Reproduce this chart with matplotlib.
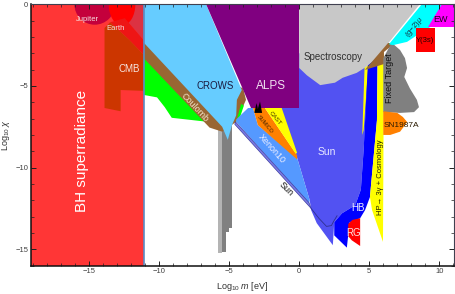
import matplotlib
matplotlib.use("Agg")
import matplotlib.pyplot as plt
from matplotlib.patches import Polygon, Ellipse
from matplotlib.ticker import MultipleLocator

plt.rcParams['font.family'] = ['Liberation Sans', 'DejaVu Sans']
plt.rcParams['mathtext.fontset'] = 'custom'
plt.rcParams['mathtext.rm'] = 'Liberation Sans'
plt.rcParams['mathtext.it'] = 'Liberation Sans:italic'

# axis ranges (log10 m [eV], log10 chi)
x_range = (-19.15, 11.05)
y_range = (-16, 0)

# excluded regions, outlines (log10 m, log10 chi)
bh_x = (-19.2, -11.1)
jupiter = dict(xy=(-14.6, 0.0), width=2.9, height=2.5)
earth = dict(xy=(-12.65, 0.0), width=1.9, height=2.6)
pink_top = [(-12.95, 0), (-11.1, 0), (-11.1, -2.2), (-12.45, -0.85)]
red_band = [(-13.5, -1.1), (-12.45, -0.85), (-11.1, -2.2), (-11.1, -3.1), (-12.1, -2.2)]
cmb = [(-13.9, -1.45), (-13.5, -1.1), (-12.1, -2.2), (-11.1, -3.1), (-11.1, -5.3),
       (-12.75, -5.25), (-12.75, -6.55), (-13.9, -6.35)]
gray_light = [(-5.77, -7.1), (-5.54, -7.1), (-5.54, -15.23), (-5.77, -15.23)]
gray_dark = [(-5.54, -7.1), (-4.81, -7.1), (-4.81, -13.7), (-5.02, -13.7), (-5.02, -13.94),
             (-5.24, -13.94), (-5.24, -15.17), (-5.54, -15.17)]
green = [(-11.1, -2.9), (-6.5, -7.2), (-9.1, -6.95), (-9.6, -6.3), (-10.15, -5.7), (-11.1, -5.55)]
green_sliver = [(-4.5, -7.2), (-4.15, -6.1), (-3.95, -6.2), (-4.3, -7.1)]
coulomb = [(-11.1, -2.3), (-4.0, -5.15), (-3.8, -5.85), (-4.5, -7.2), (-5.5, -7.8),
           (-6.4, -7.55), (-11.1, -3.3)]
crows = [(-11.1, 0), (-6.65, 0), (-4.1, -5.25), (-4.45, -5.85), (-4.5, -6.8), (-4.8, -7.4),
         (-5.1, -8.3), (-5.5, -7.5), (-11.1, -2.35)]
sun = [(-2.65, -3.0), (5.0, -3.0), (4.6, -8.9), (4.4, -11.35), (4.0, -12.3), (3.05, -12.8),
       (2.5, -13.35), (2.4, -14.75), (1.25, -13.4), (0.85, -12.6), (0.75, -12.0),
       (-0.15, -9.4), (-1.4, -6.35), (-2.65, -6.35)]
yellow_sliver = [(4.7, -3.0), (5.0, -3.0), (4.6, -7.7), (4.5, -8.0)]
hb = [(4.95, -3.0), (5.6, -3.0), (5.55, -7.1), (5.05, -11.8), (4.7, -12.6), (4.35, -13.1),
      (3.6, -13.35), (3.4, -14.9), (2.5, -14.15), (2.5, -13.35), (3.05, -12.8), (4.0, -12.3),
      (4.4, -11.35), (4.6, -8.9), (4.9, -3.7)]
rg = [(3.5, -13.45), (3.8, -13.2), (4.35, -13.1), (4.35, -14.8), (3.75, -14.45), (3.5, -14.2)]
cosmology = [(5.6, -3.0), (6.05, -3.0), (5.98, -14.55), (5.2, -12.6), (5.05, -11.8), (5.55, -7.1)]
xenon = [(-4.5, -7.05), (-3.65, -6.35), (-3.3, -6.35), (-2.95, -7.4), (-0.15, -9.4),
         (0.75, -12.0), (0.7, -12.2), (-4.5, -7.2)]
sun_band = [(-4.55, -7.2), (0.7, -12.15), (0.85, -12.5), (-4.6, -7.35)]
sun_edge_x = [0.85, 1.4, 1.95, 2.3, 2.45, 2.7]
sun_edge_y = [-12.5, -13.1, -13.6, -13.55, -13.3, -12.95]
sumico = [(-3.3, -6.35), (-2.45, -6.35), (-0.15, -9.25), (-0.15, -9.5), (-2.95, -7.4)]
cast = [(-2.45, -6.35), (-1.25, -6.35), (-0.15, -9.1), (-0.25, -9.15)]
alps = [(-6.65, 0), (0, 0), (0, -6.35), (-3.45, -6.35)]
spikes = [(-3.2, -6.65), (-3.05, -6.05), (-2.95, -6.4), (-2.8, -5.95), (-2.65, -6.65)]
spectroscopy = [(0, 0), (8.6, 0), (5.4, -3.4), (4.75, -3.85), (4.1, -4.2), (3.1, -4.5),
                (2.55, -4.8), (1.5, -4.95), (0.55, -4.35), (0, -3.9)]
brown = [(4.69, -4.02), (6.05, -3.66), (6.05, -2.92), (6.84, -2.37), (6.34, -2.37)]
fixed_target = [(6.6, -2.35), (7.2, -2.8), (7.55, -3.3), (7.7, -3.9), (7.5, -4.45), (7.9, -5.15),
                (8.4, -5.85), (8.55, -6.3), (8.2, -6.6), (7.2, -6.65), (6.0, -6.6), (6.0, -3.3)]
sn1987a = [(6.0, -6.55), (7.0, -6.65), (7.4, -6.9), (7.7, -7.2), (7.55, -7.4), (7.2, -7.8),
           (6.5, -8.0), (6.0, -8.0)]
g2 = [(6.4, -2.45), (8.75, 0), (10.3, 0), (9.35, -1.4), (8.4, -1.9), (7.7, -2.3), (6.7, -2.5)]
ew = [(10.2, 0), (11.05, 0), (11.05, -1.4), (9.2, -1.4)]
upsilon = [(8.35, -1.45), (9.7, -1.45), (9.7, -2.9), (8.35, -2.9)]

fig = plt.figure(figsize=(4.55, 2.94), dpi=100)
ax = fig.add_axes([0.0681, 0.0966, 0.9297, 0.8888])
ax.set_xlim(*x_range)
ax.set_ylim(*y_range)


def region(pts, color, z=1, **kw):
    ax.add_patch(Polygon(pts, closed=True, facecolor=color, edgecolor='none', zorder=z, **kw))


ax.axvspan(bh_x[0], bh_x[1], color='#FF3636', lw=0, zorder=0.5)
region(pink_top, '#DC3242')
ax.add_patch(Ellipse(color='#C4003C', lw=0, zorder=1, **jupiter))
ax.add_patch(Ellipse(color='#FF0000', lw=0, zorder=1, **earth))
region(red_band, '#EE1515')
region(cmb, '#CC3600')
ax.axvline(bh_x[1], color='#5B8BC4', lw=1.2, zorder=1.5)

region(gray_light, '#B4B4B4')
region(gray_dark, '#808080')
region(green, '#00FF00')
region(coulomb, '#996633')
region(green_sliver, '#00FF00')
region(crows, '#66CCFF')

region(sun, '#5252F2')
region(yellow_sliver, '#FFFF00')
region(hb, '#0000FF')
region(rg, '#FF0000')
region(cosmology, '#FFFF00')
region(xenon, '#5599FF')
ax.add_patch(Polygon(sun_band, closed=True, facecolor='#7A7AE6', edgecolor='#4040A0', lw=0.5, zorder=1))
ax.plot(sun_edge_x, sun_edge_y, color='#303090', lw=0.6, zorder=1)
region(sumico, '#FF8000')
region(cast, '#FFFF00')
region(alps, '#800080')
region(spikes, '#000000')

region(spectroscopy, '#C8C8C8')
region(brown, '#996633')
region(fixed_target, '#808080')
region(sn1987a, '#FF8000')
region(g2, '#00FFFF')
region(ew, '#FF00FF')
region(upsilon, '#FF0000')

t = dict(ha='center', va='center', zorder=5)
ax.text(-15.5, -9.0, 'BH superradiance', color='white', fontsize=11, rotation=90, **t)
ax.text(-15.1, -0.96, 'Jupiter', color='#F5E0E0', fontsize=5.5, **t)
ax.text(-13.1, -1.5, 'Earth', color='#F5E0E0', fontsize=5.5, **t)
ax.text(-12.15, -3.95, 'CMB', color='#F5E5E0', fontsize=7, **t)
ax.text(-6.0, -5.0, 'CROWS', color='#1A1A40', fontsize=7, **t)
ax.text(-2.0, -5.0, 'ALPS', color='#F0E0F0', fontsize=8.5, **t)
ax.text(-7.45, -6.3, 'Coulomb', color='#F2E2C8', fontsize=6.5, rotation=-47, **t)
ax.text(2.4, -3.2, 'Spectroscopy', color='#303030', fontsize=7, **t)
ax.text(-1.75, -7.0, 'CAST', color='#403000', fontsize=4.5, rotation=-50, **t)
ax.text(-2.45, -7.35, 'SUMICO', color='#402000', fontsize=4, rotation=-50, **t)
ax.text(-1.95, -8.85, 'Xenon10', color='#F0F0FF', fontsize=6.5, rotation=-48, **t)
ax.text(-0.95, -11.3, 'Sun', color='#101010', fontsize=6.5, rotation=-45, **t)
ax.text(2.0, -9.05, 'Sun', color='#E8E8FF', fontsize=7.5, **t)
ax.text(4.2, -12.45, 'HB', color='#F0F0FF', fontsize=7, **t)
ax.text(3.9, -14.0, 'RG', color='#FFE0E0', fontsize=7, **t)
ax.text(5.77, -10.6, 'HP\u2192 3\u03b3 + Cosmology', color='#202000', fontsize=5.5, rotation=90, **t)
ax.text(6.48, -4.5, 'Fixed Target', color='#101010', fontsize=6.5, rotation=90, **t)
ax.text(7.3, -7.45, 'SN1987A', color='#2A1A00', fontsize=6, **t)
ax.text(8.2, -1.4, '(g\u22122)$\\mu$', color='#103040', fontsize=5.5, rotation=50, **t)
ax.text(10.1, -0.95, 'EW', color='#200020', fontsize=6.5, **t)
ax.text(9.0, -2.2, '\u03a5(3s)', color='#200000', fontsize=5.5, **t)

ax.set_xlabel('Log$_{10}$ $m$ [eV]', fontsize=6.5, color='#303030', labelpad=3)
ax.set_ylabel('Log$_{10}$ $\\chi$', fontsize=6.5, color='#303030', labelpad=2)

ax.xaxis.set_major_locator(MultipleLocator(5))
ax.xaxis.set_minor_locator(MultipleLocator(1))
ax.yaxis.set_major_locator(MultipleLocator(5))
ax.yaxis.set_minor_locator(MultipleLocator(1))
ax.tick_params(which='both', direction='in', top=True, right=True, labelsize=5.5,
               labelcolor='#404040', color='#202020', pad=2)
ax.tick_params(which='major', length=3.5, width=0.7)
ax.tick_params(which='minor', length=2, width=0.5)
for side in ['left', 'bottom']:
    ax.spines[side].set_linewidth(1.1)
    ax.spines[side].set_color('#101010')
for side in ['top', 'right']:
    ax.spines[side].set_linewidth(0.8)
    ax.spines[side].set_color('#404050')

fig.savefig('out.png', dpi=100)
